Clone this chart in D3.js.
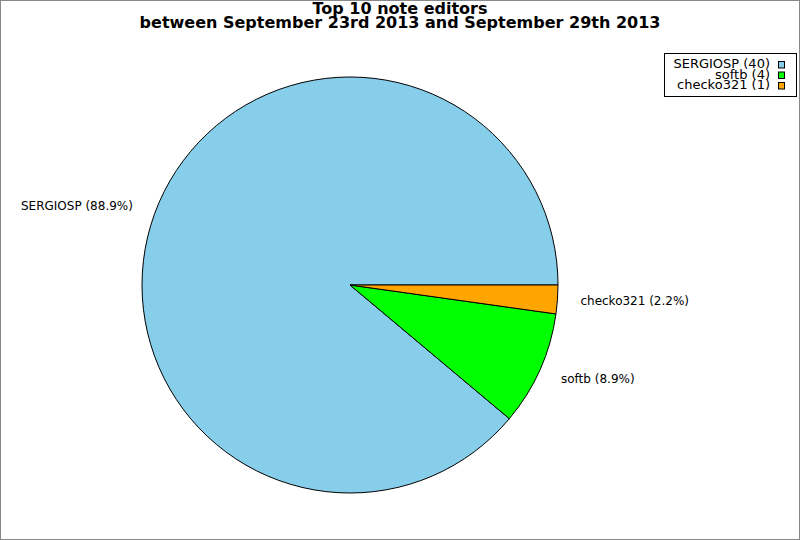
<!DOCTYPE html>
<html><head><meta charset="utf-8">
<script src="https://cdn.jsdelivr.net/npm/d3@7"></script>
<style>body{margin:0;background:#fff}svg{display:block}</style>
</head><body>
<script>
const names = ["SERGIOSP", "softb", "checko321"];
const values = [40, 4, 1];
const colors = ["#87CEEB", "#00FF00", "#FFA500"];
const titleLines = ["Top 10 note editors", "between September 23rd 2013 and September 29th 2013"];

const W = 800, H = 540;
const svg = d3.select("body").append("svg").attr("width", W).attr("height", H)
  .style("font-family", "DejaVu Sans");
svg.append("rect").attr("x", 0.5).attr("y", 0.5).attr("width", W - 1).attr("height", H - 1)
  .attr("fill", "#fff").attr("stroke", "#888");

const title = svg.append("text").attr("x", 400).attr("text-anchor", "middle")
  .attr("font-weight", "bold").attr("font-size", 16);
titleLines.forEach((t, i) => title.append("tspan").attr("x", 400).attr("y", 14 + i * 14).text(t));

const cx = 350, cy = 285, R = 208;
const total = d3.sum(values);
const data = names.map((n, i) => ({name: n, value: values[i], color: colors[i]}));
const pie = d3.pie().value(d => d.value).sort(null)
  .startAngle(Math.PI / 2).endAngle(Math.PI / 2 - 2 * Math.PI);
const arcs = pie(data);
const arc = d3.arc().innerRadius(0).outerRadius(R);
const g = svg.append("g").attr("transform", `translate(${cx},${cy})`);
g.selectAll("path").data(arcs).enter().append("path")
  .attr("d", arc).attr("fill", d => d.data.color).attr("stroke", "#000").attr("stroke-width", 1);

const LR = 231;
g.selectAll("text.lbl").data(arcs).enter().append("text")
  .attr("class", "lbl")
  .each(function(d) {
    const a = (d.startAngle + d.endAngle) / 2; // clockwise from 12
    const x = LR * Math.sin(a), y = -LR * Math.cos(a);
    d3.select(this).attr("x", x).attr("y", y).attr("dy", "0.35em")
      .attr("text-anchor", x < 0 ? "end" : "start");
  })
  .attr("font-size", 12).attr("fill", "#000")
  .text(d => `${d.data.name} (${(d.data.value / total * 100).toFixed(1)}%)`);

// legend
const lg = svg.append("g");
lg.append("rect").attr("x", 664.5).attr("y", 53.5).attr("width", 132).attr("height", 43)
  .attr("fill", "#fff").attr("stroke", "#000");
data.forEach((d, i) => {
  lg.append("text").attr("x", 770).attr("y", 68 + i * 10.5).attr("text-anchor", "end")
    .attr("font-size", 13).text(`${d.name} (${d.value})`);
  lg.append("rect").attr("x", 778.5).attr("y", 61.5 + i * 10.5).attr("width", 6).attr("height", 6.5)
    .attr("fill", d.color).attr("stroke", "#000");
});
</script>
</body></html>
